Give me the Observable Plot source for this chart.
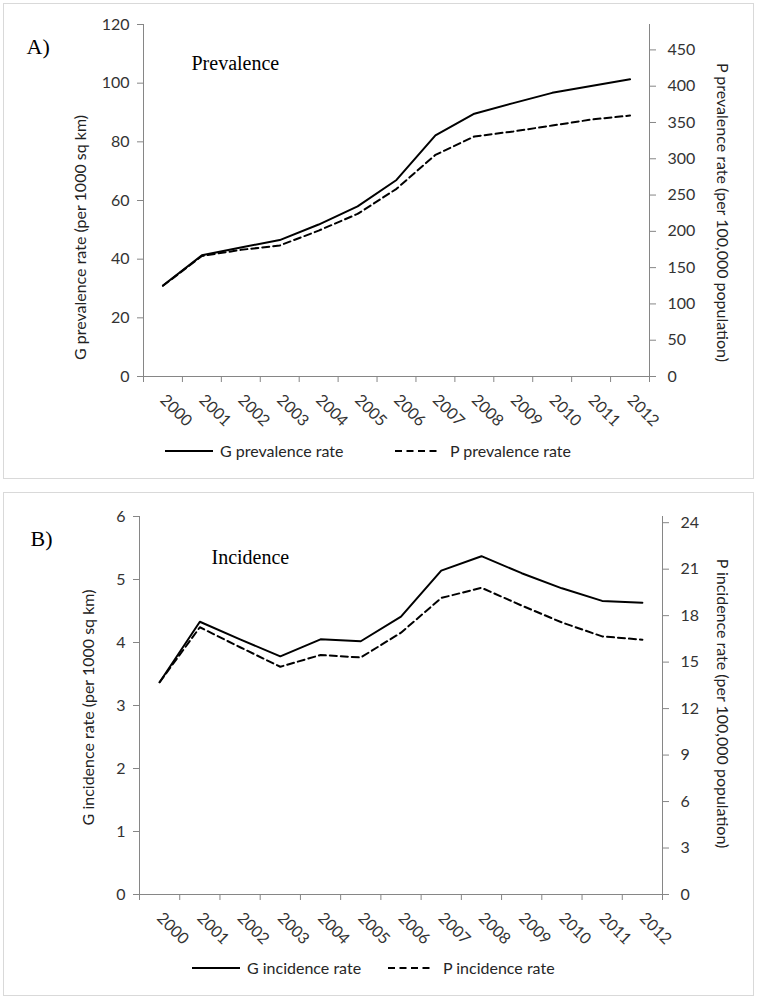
<!DOCTYPE html>
<html>
<head>
<meta charset="utf-8">
<script src="https://cdn.jsdelivr.net/npm/d3@7"></script>
<script src="https://cdn.jsdelivr.net/npm/@observablehq/plot@0.6"></script>
<style>
  html, body { margin: 0; padding: 0; background: #fff; }
  #root { position: relative; width: 759px; height: 999px; overflow: hidden; font-family: Lato, sans-serif; }
  .panel { position: absolute; border: 1px solid #d9d9d9; box-sizing: border-box; }
  .chart { position: absolute; left: 0; }
  .chart svg { overflow: visible; }
  .leg { position: absolute; height: 20px; display: flex; align-items: center; font: 16px Lato, sans-serif; color: #262626; white-space: nowrap; }
  .leg svg { display: block; }
</style>
</head>
<body>
<div id="root">
  <div class="panel" style="left:3px;top:3px;width:751px;height:476px;"></div>
  <div class="panel" style="left:3px;top:492px;width:751px;height:504px;"></div>
  <div class="chart" id="chartA" style="top:0px;"></div>
  <div class="chart" id="chartB" style="top:490px;"></div>
</div>
<script>
// ---- data ----
const years = [2000, 2001, 2002, 2003, 2004, 2005, 2006, 2007, 2008, 2009, 2010, 2011, 2012];
const gPrevalence = [31.0, 41.3, 44.0, 46.5, 51.8, 58.0, 67.0, 82.2, 89.6, 93.2, 96.7, 99.0, 101.3];
const pPrevalence = [125, 166, 174.5, 180.5, 201, 224, 258.6, 305.4, 330.7, 337.6, 345.8, 354, 359.6];
const gIncidence = [3.37, 4.33, 4.05, 3.78, 4.05, 4.02, 4.41, 5.14, 5.37, 5.10, 4.86, 4.66, 4.63];
const pIncidence = [13.7, 17.25, 15.96, 14.7, 15.46, 15.3, 16.9, 19.14, 19.8, 18.65, 17.56, 16.66, 16.45];
const prevLeftTicks = [0, 20, 40, 60, 80, 100, 120];
const prevRightTicks = [0, 50, 100, 150, 200, 250, 300, 350, 400, 450];
const incLeftTicks = [0, 1, 2, 3, 4, 5, 6];
const incRightTicks = [0, 3, 6, 9, 12, 15, 18, 21, 24];
const prevLeftMax = 120, prevRightMax = 485;
const incLeftMax = 6, incRightMax = 24.4;

const AXIS = "#868686", TXT = "#333";

function makePanel(o) {
  const k = o.leftMax / o.rightMax;
  const gRows = years.map((yr, i) => ({year: yr, v: o.g[i]}));
  const pRows = years.map((yr, i) => ({year: yr, v: o.p[i] * k}));
  const bounds = [years[0] - 0.5, ...years.map(y => y + 0.5)];
  return Plot.plot({
    width: 759, height: o.height,
    marginLeft: o.ml, marginRight: o.mr, marginTop: o.mt, marginBottom: o.mb,
    x: {domain: [years[0] - 0.5, years[years.length - 1] + 0.5]},
    y: {domain: [0, o.leftMax]},
    style: {fontFamily: "Lato, sans-serif", fontSize: "16px", color: TXT, background: "transparent", overflow: "visible"},
    marks: [
      Plot.ruleY([0], {stroke: AXIS}),
      Plot.ruleX([bounds[0]], {stroke: AXIS}),
      Plot.ruleX([bounds[bounds.length - 1]], {stroke: AXIS}),
      Plot.axisY({anchor: "left", ticks: o.leftTicks, tickSize: 6, tickPadding: 8, label: null, stroke: AXIS, fill: TXT, tickFormat: d3.format("d")}),
      Plot.axisY({anchor: "right", ticks: o.rightTicks.map(v => v * k), tickSize: 6, tickPadding: 12, label: null, stroke: AXIS, fill: TXT,
        tickFormat: v => String(Math.round(v / k))}),
      Plot.axisX({ticks: bounds, tickSize: 6, tickFormat: () => "", label: null, stroke: AXIS}),
      Plot.text(years, {x: d => d, text: d => String(d), frameAnchor: "bottom", dy: 21, rotate: 45,
        textAnchor: "start", lineAnchor: "middle", fill: TXT, fontSize: 16}),
      Plot.line(gRows, {x: "year", y: "v", stroke: "#000", strokeWidth: 2}),
      Plot.line(pRows, {x: "year", y: "v", stroke: "#000", strokeWidth: 2, strokeDasharray: "7,4"}),
      Plot.text([o.leftTitle], {text: d => d, frameAnchor: "left", dx: o.ltDx, dy: o.ltDy, rotate: -90,
        textAnchor: "middle", lineAnchor: "middle", fill: "#222", fontSize: 16}),
      Plot.text([o.rightTitle], {text: d => d, frameAnchor: "right", dx: o.rtDx, dy: o.rtDy, rotate: 90,
        textAnchor: "middle", lineAnchor: "middle", fill: "#222", fontSize: 16}),
      Plot.text([o.letter], {text: d => d, frameAnchor: "top-left", dx: o.letDx, dy: o.letDy, textAnchor: "start", lineAnchor: "bottom",
        fontFamily: "'Liberation Serif', 'Times New Roman', serif", fontSize: 22, fill: "#000"}),
      Plot.text([o.title], {text: d => d, frameAnchor: "top-left", dx: o.tDx, dy: o.tDy, textAnchor: "start", lineAnchor: "bottom",
        fontFamily: "'Liberation Serif', 'Times New Roman', serif", fontSize: 20, fill: "#000"})
    ]
  });
}

document.getElementById("chartA").appendChild(makePanel({
  g: gPrevalence, p: pPrevalence, leftMax: prevLeftMax, rightMax: prevRightMax,
  leftTicks: prevLeftTicks, rightTicks: prevRightTicks,
  height: 430, ml: 143, mr: 110, mt: 24, mb: 54,
  leftTitle: "G prevalence rate (per 1000 sq km)", ltDx: -63, ltDy: 37,
  rightTitle: "P prevalence rate (per 100,000 population)", rtDx: 73, rtDy: 12,
  letter: "A)", letDx: -117, letDy: 29, title: "Prevalence", tDx: 48, tDy: 45
}));

document.getElementById("chartB").appendChild(makePanel({
  g: gIncidence, p: pIncidence, leftMax: incLeftMax, rightMax: incRightMax,
  leftTicks: incLeftTicks, rightTicks: incRightTicks,
  height: 450, ml: 139, mr: 97, mt: 26, mb: 46,
  leftTitle: "G incidence rate (per 1000 sq km)", ltDx: -51, ltDy: 2,
  rightTitle: "P incidence rate (per 100,000 population)", rtDx: 60, rtDy: -2,
  letter: "B)", letDx: -109, letDy: 29, title: "Incidence", tDx: 72, tDy: 47
}));

// ---- legends (HTML, below each chart) ----
function legendItem(left, cy, dashed, label) {
  const d = document.createElement("div");
  d.className = "leg";
  d.style.left = left + "px";
  d.style.top = (cy - 10) + "px";
  const w = dashed ? 42 : 48;
  d.innerHTML = `<svg width="${w}" height="10"><line x1="0" x2="${w}" y1="5" y2="5" stroke="#000" stroke-width="2" ${dashed ? 'stroke-dasharray="7,4.5"' : ""}/></svg><span style="margin-left:${dashed ? 13 : 7}px">${label}</span>`;
  document.getElementById("root").appendChild(d);
}
legendItem(165, 450.5, false, "G prevalence rate");
legendItem(395, 450.5, true, "P prevalence rate");
legendItem(192, 967.5, false, "G incidence rate");
legendItem(388, 967.5, true, "P incidence rate");
</script>
</body>
</html>
